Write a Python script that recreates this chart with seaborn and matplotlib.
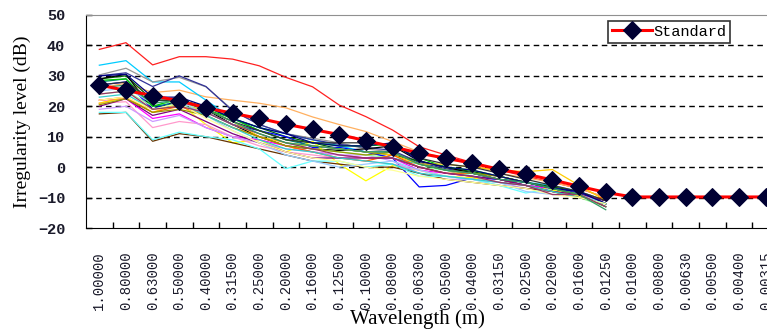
import numpy as np
import pandas as pd
import matplotlib
matplotlib.use("Agg")
import matplotlib.pyplot as plt
import seaborn as sns

# wavelength categories (m)
wavelengths = ["1.00000", "0.80000", "0.63000", "0.50000", "0.40000", "0.31500",
               "0.25000", "0.20000", "0.16000", "0.12500", "0.10000", "0.08000",
               "0.06300", "0.05000", "0.04000", "0.03150", "0.02500", "0.02000",
               "0.01600", "0.01250", "0.01000", "0.00800", "0.00630", "0.00500",
               "0.00400", "0.00315"]

standard = [27.0, 25.2, 23.5, 21.8, 19.5, 17.7, 16.0, 14.1, 12.4, 10.7, 8.7, 6.7,
            4.6, 2.9, 1.3, -0.7, -2.3, -4.2, -6.3, -8.3, -9.8, -9.8, -9.8, -9.8,
            -9.8, -9.8]

# measured spectra, 1.0 m .. 0.0125 m (20 values each)
s01 = [38.7, 40.9, 33.6, 36.3, 36.3, 35.5, 33.3, 29.5, 26.4, 20.4, 16.6, 12.2, 6.7, 4.0, 1.5, -1.0, -3.0, -5.0, -7.0, -10.0]
s02 = [26.0, 27.6, 24.5, 25.3, 23.1, 22.0, 21.0, 19.5, 16.5, 14.0, 11.7, 8.4, 5.0, 3.0, 1.0, -2.0, -3.5, -5.0, -7.0, -10.0]
s03 = [33.5, 35.0, 28.0, 28.0, 22.0, 16.0, 13.0, 11.0, 9.0, 7.0, 5.0, 3.0, 1.0, -1.0, -3.0, -4.0, -5.0, -6.0, -8.0, -11.0]
s04 = [30.3, 32.5, 28.0, 29.5, 26.4, 18.8, 14.0, 11.0, 9.5, 8.0, 6.0, 5.0, 2.0, 0.0, -2.0, -3.0, -5.0, -6.5, -8.0, -11.0]
s05 = [30.0, 31.0, 26.5, 30.0, 26.5, 18.5, 14.0, 11.0, 9.0, 7.5, 6.5, 5.5, 1.5, -0.5, -2.0, -4.0, -5.0, -7.0, -8.5, -12.0]
s06 = [29.0, 30.0, 22.0, 22.0, 20.0, 16.0, 13.0, 10.0, 8.0, 6.0, 5.0, 4.0, 2.0, 0.0, -1.5, -3.0, -5.0, -6.5, -8.0, -12.0]
s07 = [29.0, 30.5, 19.0, 22.0, 19.0, 14.0, 10.0, 7.0, 6.0, 5.5, 6.0, 7.0, 2.0, 0.0, -2.0, -4.0, -6.0, -8.0, -9.0, -11.0]
s08 = [27.0, 28.0, 19.0, 22.5, 18.0, 14.0, 12.0, 10.0, 6.5, 6.5, 5.0, 3.0, -6.5, -6.0, -3.5, -4.0, -6.0, -7.0, -8.0, -12.0]
s09 = [21.0, 23.0, 18.0, 21.0, 14.0, 8.0, 9.0, 5.0, 8.5, 1.0, -4.5, 0.5, -1.0, -3.0, -3.5, -5.0, -6.0, -7.5, -9.5, -12.0]
s10 = [22.0, 22.5, 16.0, 17.5, 13.0, 10.0, 9.0, 7.0, 5.0, 4.0, 3.0, 3.0, -1.0, -2.0, -3.0, -5.0, -6.0, -7.0, -9.0, -12.0]
s11 = [21.0, 21.5, 13.0, 15.0, 14.0, 10.0, 7.0, 5.0, 4.0, 3.0, 2.0, 1.0, -1.0, -3.0, -4.0, -6.0, -7.0, -8.0, -10.0, -12.0]
s12 = [19.0, 20.0, 15.0, 17.0, 13.0, 10.0, 8.0, 6.0, 5.0, 4.0, 4.0, 2.0, -2.0, -4.0, -4.0, -5.0, -7.0, -8.0, -10.0, -12.0]
s13 = [24.0, 25.0, 20.0, 22.0, 18.0, 14.0, 11.0, 8.0, 6.0, 5.0, 4.0, 3.0, 0.0, -1.0, -3.0, -5.0, -6.0, -8.0, -10.0, -13.0]
s14 = [17.5, 18.0, 8.5, 11.0, 10.0, 8.0, 6.0, 4.0, 2.0, 1.0, 0.0, 0.0, -2.0, -4.0, -5.0, -6.0, -7.0, -8.0, -10.0, -12.0]
s15 = [18.0, 18.0, 9.0, 11.5, 10.0, 9.0, 6.0, -0.5, 2.0, 2.0, 0.0, 1.0, -3.0, -3.0, -4.0, -6.0, -8.5, -7.0, -9.0, -13.0]
s16 = [28.0, 29.0, 20.0, 21.0, 20.0, 16.0, 12.0, 9.0, 7.0, 6.0, 5.0, 5.0, 1.0, -1.0, -2.0, -4.0, -5.0, -7.0, -9.0, -13.0]
s17 = [28.5, 29.0, 20.0, 22.5, 19.0, 16.0, 12.0, 9.0, 8.0, 7.0, 7.0, 7.5, 3.0, 0.0, -1.0, -3.0, -5.0, -7.0, -9.0, -12.0]
s18 = [21.0, 23.0, 19.0, 20.0, 19.0, 15.0, 10.0, 8.0, 7.0, 6.0, 5.0, 4.0, 1.0, 1.0, 0.0, -1.0, -1.5, -0.8, -6.0, -11.0]
s19 = [22.0, 23.0, 18.0, 20.0, 17.0, 13.0, 10.0, 7.0, 5.0, 3.0, 2.0, 4.0, 0.0, -2.0, -2.0, -4.0, -6.0, -8.0, -10.0, -10.0]
s20 = [20.0, 22.5, 17.0, 19.0, 15.0, 11.0, 8.0, 5.0, 3.0, 3.0, 3.0, 3.0, 0.0, -2.0, -3.0, -4.0, -6.0, -8.0, -9.0, -11.0]
s21 = [25.0, 26.0, 21.0, 22.0, 17.0, 12.0, 8.0, 4.0, 2.0, 0.0, 1.0, 2.0, -1.0, -3.0, -4.0, -5.0, -8.0, -9.0, -9.0, -12.0]
s22 = [20.5, 22.5, 18.0, 19.0, 17.0, 13.0, 10.0, 7.0, 6.0, 5.0, 4.0, 5.0, 1.0, -1.0, -2.0, -3.0, -5.0, -7.0, -9.0, -13.0]
s23 = [27.0, 28.0, 22.0, 22.0, 19.0, 15.0, 12.0, 9.0, 8.0, 8.0, 8.0, 7.0, 3.0, 1.0, 0.0, -2.0, -4.0, -6.0, -8.0, -11.0]
s24 = [30.0, 30.5, 23.0, 23.0, 20.0, 16.0, 13.0, 11.0, 8.0, 7.0, 7.0, 8.0, 2.0, 0.0, -1.0, -3.0, -5.0, -7.0, -8.0, -12.0]
s25 = [23.0, 24.0, 19.0, 21.0, 17.0, 13.0, 9.0, 6.0, 5.0, 3.0, 2.0, 1.0, -2.0, -3.0, -4.0, -5.0, -6.0, -8.0, -10.0, -12.0]
s26 = [22.0, 23.0, 19.0, 21.0, 16.0, 12.0, 8.0, 5.0, 3.0, 2.0, 0.0, -1.0, -3.0, -4.0, -5.0, -6.0, -7.0, -9.0, -10.0, -12.0]
s27 = [24.0, 25.0, 19.0, 20.0, 18.0, 14.0, 11.0, 8.0, 6.0, 4.0, 3.0, 3.0, 0.0, -2.0, -3.0, -5.0, -6.0, -9.0, -9.0, -13.0]
s28 = [26.0, 27.0, 21.0, 22.0, 19.0, 15.0, 11.0, 8.0, 7.0, 6.0, 5.0, 5.0, 1.0, -1.0, -2.0, -4.0, -5.0, -7.0, -9.0, -14.0]

series = [s01, s02, s03, s04, s05, s06, s07, s08, s09, s10, s11, s12, s13, s14,
          s15, s16, s17, s18, s19, s20, s21, s22, s23, s24, s25, s26, s27, s28]
colors = ["#FF2020", "#FFB060", "#00CCFF", "#969696", "#333399", "#006400",
          "#000000", "#0000FF", "#FFFF00", "#FF00FF", "#FF99CC", "#CC99FF",
          "#99FF99", "#663300", "#66FFFF", "#008080", "#00CC00", "#FFCC00",
          "#FF6600", "#800080", "#99CCFF", "#999900", "#333333", "#000080",
          "#33CCCC", "#FFFF99", "#993366", "#339966"]

rows = []
for k, vals in enumerate(series):
    for i, v in enumerate(vals):
        rows.append({"series": f"m{k}", "pos": i, "level": v})
df = pd.DataFrame(rows)

fig = plt.figure(figsize=(7.67, 3.31), dpi=100)
ax = fig.add_axes([86 / 767, 1 - 228 / 331, (779 - 86) / 767, 213 / 331])

sns.lineplot(data=df, x="pos", y="level", hue="series", palette=colors,
             linewidth=0.9, legend=False, estimator=None, sort=False, ax=ax)
sns.lineplot(x=list(range(len(wavelengths))), y=standard, color="#FF0000",
             linewidth=2.2, marker="D", markersize=9, markerfacecolor="#000033",
             markeredgecolor="#000033", label="Standard", ax=ax, zorder=5)

ax.set_xlim(-0.5, len(wavelengths) - 0.5)
ax.set_ylim(-20, 50)
ax.set_yticks(range(-20, 51, 10))
ax.set_xticks(range(len(wavelengths)))
ax.set_xticklabels(wavelengths, rotation=90, family="Liberation Mono",
                   fontsize=10, color="#1a1a2a")
ax.set_xticks(np.arange(0.5, len(wavelengths) - 0.5, 1), minor=True)
ax.tick_params(axis="x", which="major", length=0, pad=17)
ax.tick_params(axis="x", which="minor", direction="in", length=4, width=1)
ax.tick_params(axis="y", direction="in", length=4, width=1, pad=15)
for lab in ax.get_yticklabels():
    lab.set_family("Liberation Mono")
    lab.set_fontweight("bold")
    lab.set_fontsize(11)
    lab.set_color("#1a1a2a")

for y in range(-10, 41, 10):
    ax.axhline(y, color="black", linewidth=1, linestyle=(0, (4, 3)), zorder=0)

ax.spines["top"].set_color("#909090")
ax.spines["left"].set_color("black")
ax.spines["bottom"].set_color("black")
ax.set_xlabel("")
ax.set_ylabel("Irregularity level (dB)", family="Liberation Serif", fontsize=14,
              labelpad=5)
fig.text(417 / 767, 1 - 319 / 331, "Wavelength (m)", family="Liberation Serif",
         fontsize=15, ha="center", va="center")

leg = ax.legend(loc="upper left", bbox_to_anchor=(608 / 767, 1 - 21 / 331),
                bbox_transform=fig.transFigure, borderaxespad=0, frameon=True,
                fancybox=False, handlelength=2.6, borderpad=0.25,
                handletextpad=0.1, prop={"family": "Liberation Mono", "size": 11})
leg.get_frame().set_edgecolor("black")
leg.get_frame().set_linewidth(1.2)

fig.savefig("out.png", dpi=100)
